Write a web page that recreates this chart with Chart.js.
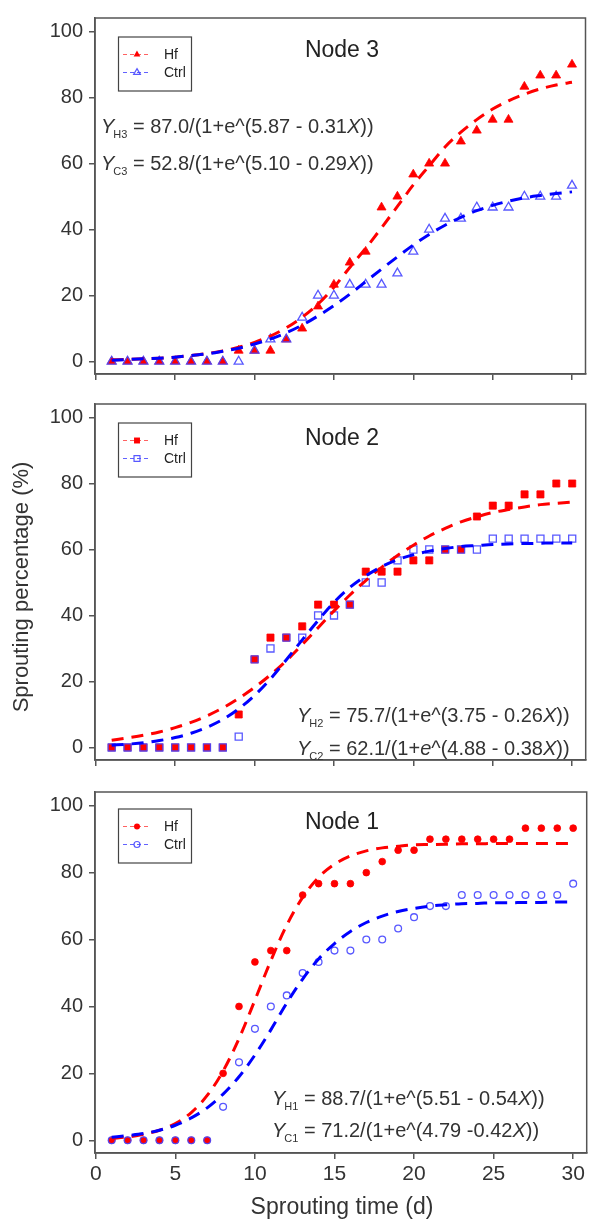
<!DOCTYPE html>
<html>
<head>
<meta charset="utf-8">
<script src="https://cdn.jsdelivr.net/npm/chart.js@4/dist/chart.umd.min.js"></script>
<style>
  body { margin: 0; background: #fff; }
  #wrap { position: relative; width: 592px; height: 1223px; overflow: hidden; background: #fff; }
  canvas { position: absolute; left: 0; }
</style>
</head>
<body>
<div id="wrap">
  <canvas id="node3" width="592" height="392" style="top:0px"></canvas>
  <canvas id="node2" width="592" height="392" style="top:386px"></canvas>
  <canvas id="node1" width="592" height="449" style="top:774px"></canvas>
</div>
<script>
// sprouting time (d)
const DAYS = [1, 2, 3, 4, 5, 6, 7, 8, 9, 10, 11, 12, 13, 14, 15, 16, 17, 18, 19, 20, 21, 22, 23, 24, 25, 26, 27, 28, 29, 30];
const X_TICKS = [0, 5, 10, 15, 20, 25, 30];
const Y_TICKS = [0, 20, 40, 60, 80, 100];

// Node 3 observed (%)
const N3_HF   = [0, 0, 0, 0, 0, 0, 0, 0, 3.3, 3.3, 3.3, 6.7, 10, 16.7, 23.3, 30, 33.3, 46.7, 50, 56.7, 60, 60, 66.7, 70, 73.3, 73.3, 83.3, 86.7, 86.7, 90];
const N3_CTRL = [0, 0, 0, 0, 0, 0, 0, 0, 0, 3.3, 6.7, 6.7, 13.3, 20, 20, 23.3, 23.3, 23.3, 26.7, 33.3, 40, 43.3, 43.3, 46.7, 46.7, 46.7, 50, 50, 50, 53.3];
// Node 3 fitted curves
const N3_HF_FIT   = [0.5, 0.6, 0.8, 1.0, 1.3, 1.8, 2.4, 3.2, 4.3, 5.8, 7.7, 10.2, 13.4, 17.4, 22.5, 28.5, 34.3, 40.5, 47.0, 53.5, 59.3, 65.0, 69.5, 73.3, 76.5, 79.0, 81.0, 82.6, 83.8, 84.6];
const N3_CTRL_FIT = [0.4, 0.6, 0.8, 1.0, 1.3, 1.8, 2.3, 3.1, 4.0, 5.3, 6.8, 8.7, 11.0, 13.8, 16.9, 20.4, 24.2, 28.0, 31.7, 35.3, 38.5, 41.3, 43.7, 45.7, 47.3, 48.6, 49.6, 50.3, 50.9, 51.4];

// Node 2
const N2_HF   = [0, 0, 0, 0, 0, 0, 0, 0, 10, 26.7, 33.3, 33.3, 36.7, 43.3, 43.3, 43.3, 53.3, 53.3, 53.3, 56.7, 56.7, 60, 60, 70, 73.3, 73.3, 76.7, 76.7, 80, 80];
const N2_CTRL = [0, 0, 0, 0, 0, 0, 0, 0, 3.3, 26.7, 30, 33.3, 33.3, 40, 40, 43.3, 50, 50, 56.7, 60, 60, 60, 60, 60, 63.3, 63.3, 63.3, 63.3, 63.3, 63.3];
const N2_HF_FIT   = [2.2, 2.9, 3.7, 4.7, 6.0, 7.6, 9.6, 12.0, 14.9, 18.2, 22.0, 26.3, 31.2, 36.3, 41.4, 46.2, 50.6, 54.6, 58.2, 61.3, 64.1, 66.4, 68.4, 69.9, 71.2, 72.1, 72.9, 73.6, 74.0, 74.4];
const N2_CTRL_FIT = [0.7, 1.0, 1.4, 2.1, 3.0, 4.3, 6.1, 8.5, 11.7, 15.8, 20.8, 26.6, 32.6, 38.5, 44.0, 48.5, 52.0, 54.8, 56.9, 58.4, 59.5, 60.3, 60.9, 61.2, 61.5, 61.7, 61.8, 61.9, 62.0, 62.0];

// Node 1
const N1_HF   = [0, 0, 0, 0, 0, 0, 0, 20, 40, 53.3, 56.7, 56.7, 73.3, 76.7, 76.7, 76.7, 80, 83.3, 86.7, 86.7, 90, 90, 90, 90, 90, 90, 93.3, 93.3, 93.3, 93.3];
const N1_CTRL = [0, 0, 0, 0, 0, 0, 0, 10, 23.3, 33.3, 40, 43.3, 50, 53.3, 56.7, 56.7, 60, 60, 63.3, 66.7, 70, 70, 73.3, 73.3, 73.3, 73.3, 73.3, 73.3, 73.3, 76.7];
const N1_HF_FIT   = [0.6, 1.0, 1.8, 3.0, 5.0, 8.3, 13.4, 20.7, 30.4, 41.9, 53.7, 64.3, 72.6, 78.6, 82.5, 85.0, 86.5, 87.4, 87.9, 88.3, 88.4, 88.5, 88.6, 88.6, 88.7, 88.7, 88.7, 88.7, 88.7, 88.7];
const N1_CTRL_FIT = [0.9, 1.4, 2.0, 3.0, 4.5, 6.7, 9.7, 13.8, 19.0, 25.5, 33.0, 41.0, 48.2, 54.2, 58.8, 62.4, 65.1, 67.0, 68.4, 69.3, 70.0, 70.4, 70.7, 70.8, 71.0, 71.0, 71.1, 71.1, 71.2, 71.2];

const SERIES_LABELS = ['Hf', 'Ctrl'];

const FONT = "'Liberation Sans', Arial, sans-serif";
const RED = '#ff0000';
const BLUE = '#0000ff';
const OPEN_BLUE = 'rgba(70, 70, 255, 0.9)';
const FRAME = '#555';
const TEXT = '#333';

const panels = [
  {
    id: 'node3', title: 'Node 3', hf: N3_HF, ctrl: N3_CTRL, hfFit: N3_HF_FIT, ctrlFit: N3_CTRL_FIT,
    style: 'triangle', radius: 5.2, legendRadius: 3.9,
    xAxisHeight: 12, showX: false, legendTop: 19, titleY: 39,
    eqX: 101, eqY: [115, 152],
    eqs: [
      ['H3', [[' = 87.0/(1+e^(5.87 - 0.31', false], ['X', true], ['))', false]]],
      ['C3', [[' = 52.8/(1+e^(5.10 - 0.29', false], ['X', true], ['))', false]]]
    ]
  },
  {
    id: 'node2', title: 'Node 2', hf: N2_HF, ctrl: N2_CTRL, hfFit: N2_HF_FIT, ctrlFit: N2_CTRL_FIT,
    style: 'rect', radius: 5, legendRadius: 4.2,
    xAxisHeight: 11, showX: false, legendTop: 19, titleY: 41, yTitle: true,
    eqX: 297, eqY: [318, 351],
    eqs: [
      ['H2', [[' = 75.7/(1+e^(3.75 - 0.26', false], ['X', true], ['))', false]]],
      ['C2', [[' = 62.1/(1+', false], ['e', true], ['^(4.88 - 0.38', false], ['X', true], ['))', false]]]
    ]
  },
  {
    id: 'node1', title: 'Node 1', hf: N1_HF, ctrl: N1_CTRL, hfFit: N1_HF_FIT, ctrlFit: N1_CTRL_FIT,
    style: 'circle', radius: 3.4, legendRadius: 3,
    xAxisHeight: 70, showX: true, legendTop: 17, titleY: 37,
    eqX: 272, eqY: [313, 345],
    eqs: [
      ['H1', [[' = 88.7/(1+e^(5.51 - 0.54', false], ['X', true], ['))', false]]],
      ['C1', [[' = 71.2/(1+e^(4.79 -0.42', false], ['X', true], ['))', false]]]
    ]
  }
];

function toPoints(ys) {
  return DAYS.map((d, i) => ({ x: d, y: ys[i] }));
}

function pointSet(label, ys, p, filled, order) {
  return {
    label: label,
    data: toPoints(ys),
    showLine: false,
    pointStyle: p.style,
    pointRadius: p.radius,
    pointBackgroundColor: filled ? RED : 'rgba(0,0,0,0)',
    pointBorderColor: filled ? RED : OPEN_BLUE,
    pointBorderWidth: filled ? 0.8 : 1.3,
    order: order
  };
}

function fitSet(label, ys, color, order) {
  return {
    label: label,
    data: toPoints(ys),
    showLine: true,
    pointRadius: 0,
    borderColor: color,
    borderWidth: 3,
    borderDash: [12, 8],
    cubicInterpolationMode: 'monotone',
    fill: false,
    order: order
  };
}

function drawMarker(ctx, style, x, y, r, filled) {
  ctx.save();
  ctx.beginPath();
  if (style === 'triangle') {
    ctx.moveTo(x, y - r);
    ctx.lineTo(x + 0.866 * r, y + 0.5 * r);
    ctx.lineTo(x - 0.866 * r, y + 0.5 * r);
    ctx.closePath();
  } else if (style === 'rect') {
    const h = r * Math.SQRT1_2;
    ctx.rect(x - h, y - h, 2 * h, 2 * h);
  } else {
    ctx.arc(x, y, r, 0, Math.PI * 2);
  }
  if (filled) {
    ctx.fillStyle = RED;
    ctx.fill();
  } else {
    ctx.strokeStyle = OPEN_BLUE;
    ctx.lineWidth = 1.2;
    ctx.stroke();
  }
  ctx.restore();
}

function drawEquation(ctx, x, y, sub, segs) {
  ctx.fillStyle = TEXT;
  ctx.textBaseline = 'alphabetic';
  ctx.textAlign = 'left';
  ctx.font = 'italic 20px ' + FONT;
  ctx.fillText('Y', x, y);
  x += ctx.measureText('Y').width - 1;
  ctx.font = '11px ' + FONT;
  ctx.fillText(sub, x, y + 5);
  x += ctx.measureText(sub).width;
  for (const [txt, italic] of segs) {
    ctx.font = (italic ? 'italic ' : '') + '20px ' + FONT;
    ctx.fillText(txt, x, y);
    x += ctx.measureText(txt).width;
  }
}

const decor = {
  id: 'decor',
  afterDraw(chart) {
    const p = chart.options.plugins.decor.panel;
    const ctx = chart.ctx;
    const a = chart.chartArea;
    ctx.save();

    // frame
    ctx.strokeStyle = FRAME;
    ctx.lineWidth = 1.5;
    ctx.strokeRect(a.left, a.top, a.right - a.left, a.bottom - a.top);

    // title
    ctx.fillStyle = '#222';
    ctx.font = '23px ' + FONT;
    ctx.textAlign = 'center';
    ctx.textBaseline = 'alphabetic';
    ctx.fillText(p.title, 342, a.top + p.titleY);

    // legend box
    const bx = 118.5, by = a.top + p.legendTop;
    ctx.strokeStyle = '#444';
    ctx.lineWidth = 1.2;
    ctx.strokeRect(bx, by, 73, 54);
    const rows = [by + 17.5, by + 35.5];
    SERIES_LABELS.forEach((lab, i) => {
      const ry = rows[i];
      ctx.save();
      ctx.strokeStyle = i === 0 ? 'rgba(255, 70, 70, 0.85)' : 'rgba(70, 70, 255, 0.85)';
      ctx.lineWidth = 1.2;
      ctx.setLineDash([4, 3]);
      ctx.beginPath();
      ctx.moveTo(123, ry);
      ctx.lineTo(151, ry);
      ctx.stroke();
      ctx.restore();
      drawMarker(ctx, p.style, 137, ry, p.legendRadius, i === 0);
      ctx.fillStyle = '#222';
      ctx.font = '14px ' + FONT;
      ctx.textAlign = 'left';
      ctx.textBaseline = 'middle';
      ctx.fillText(lab, 164, ry + 1);
    });

    // fitted equations
    p.eqs.forEach((eq, i) => drawEquation(ctx, p.eqX, a.top + p.eqY[i], eq[0], eq[1]));

    // shared y title, drawn on the middle panel
    if (p.yTitle) {
      ctx.save();
      ctx.translate(22, 201);
      ctx.rotate(-Math.PI / 2);
      ctx.fillStyle = TEXT;
      ctx.font = '22px ' + FONT;
      ctx.textAlign = 'center';
      ctx.textBaseline = 'middle';
      ctx.fillText('Sprouting percentage (%)', 0, 0);
      ctx.restore();
    }

    // x title on the bottom panel
    if (p.showX) {
      ctx.fillStyle = TEXT;
      ctx.font = '23px ' + FONT;
      ctx.textAlign = 'center';
      ctx.textBaseline = 'middle';
      ctx.fillText('Sprouting time (d)', 342, 434);
    }
    ctx.restore();
  }
};

function makeChart(p) {
  const data = {
    datasets: [
      fitSet('Ctrl fit', p.ctrlFit, BLUE, 0),
      fitSet('Hf fit', p.hfFit, RED, 1),
      pointSet('Ctrl', p.ctrl, p, false, 2),
      pointSet('Hf', p.hf, p, true, 3)
    ]
  };

  const config = {
    type: 'scatter',
    data: data,
    options: {
      responsive: false,
      animation: false,
      devicePixelRatio: 1,
      layout: { padding: { top: 8, right: 1, left: 0, bottom: 0 } },
      plugins: {
        legend: { display: false },
        tooltip: { enabled: false },
        decor: { panel: p }
      },
      scales: {
        x: {
          type: 'linear',
          min: -0.05,
          max: 30.85,
          afterFit(scale) { scale.height = p.xAxisHeight; },
          afterBuildTicks(scale) { scale.ticks = X_TICKS.map(v => ({ value: v })); },
          ticks: {
            display: p.showX,
            maxRotation: 0,
            padding: 3,
            color: TEXT,
            font: { size: 21, family: FONT }
          },
          grid: { drawOnChartArea: false, drawTicks: true, tickLength: 6, color: FRAME, lineWidth: 1.5 },
          border: { display: true, color: FRAME, width: 1.5 }
        },
        y: {
          type: 'linear',
          min: -3.8,
          max: 104.1,
          afterFit(scale) { scale.width = 95; },
          afterBuildTicks(scale) { scale.ticks = Y_TICKS.map(v => ({ value: v })); },
          ticks: {
            padding: 6,
            color: TEXT,
            font: { size: 20, family: FONT }
          },
          grid: { drawOnChartArea: false, drawTicks: true, tickLength: 6, color: FRAME, lineWidth: 1.5 },
          border: { display: true, color: FRAME, width: 1.5 }
        }
      }
    },
    plugins: [decor]
  };

  return new Chart(document.getElementById(p.id), config);
}

panels.forEach(makeChart);
</script>
</body>
</html>
